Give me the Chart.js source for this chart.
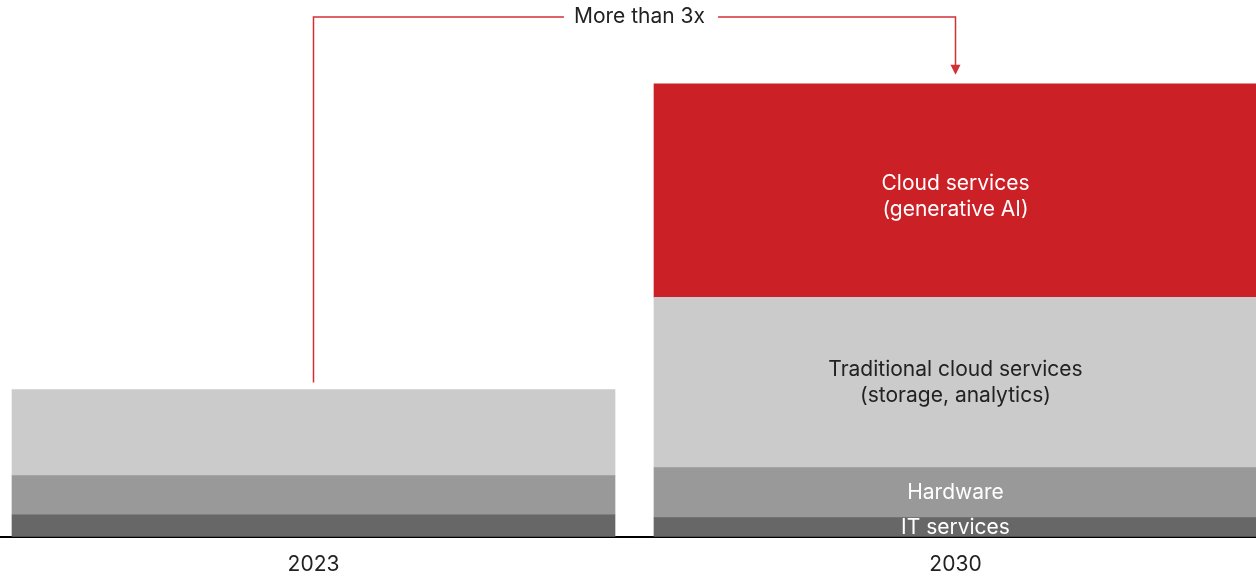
<!DOCTYPE html>
<html>
<head>
<meta charset="utf-8">
<script src="https://cdn.jsdelivr.net/npm/chart.js@4"></script>
<style>
  html, body { margin: 0; padding: 0; background: #fff; overflow: hidden; }
  #wrap { width: 1256px; height: 577px; position: relative; overflow: hidden; }
  /* canvas is a bit bigger than the page so the two category centres land where the bars sit */
  #inner { position: absolute; left: -19px; top: 0; width: 1300px; height: 594px; }
</style>
</head>
<body>
<div id="wrap"><div id="inner"><canvas id="chart"></canvas></div></div>
<script>
// values (arbitrary units, 2023 total = 100)
const years = ['2023', '2030'];
const itServices = [15, 13];
const hardware = [26.5, 34];
const traditionalCloud = [58.5, 115.5];
const genAiCloud = [null, 145]; // no gen AI segment in 2023
const segmentNames = ['IT services', 'Hardware', 'Traditional cloud services\n(storage, analytics)', 'Cloud services\n(generative AI)'];
const segmentColors = ['#666766', '#999999', '#cbcbcb', '#cc2027'];
const segmentTextColors = ['#ffffff', '#ffffff', '#222222', '#ffffff'];
const growthLabel = 'More than 3x';

const series = [itServices, hardware, traditionalCloud, genAiCloud];
const FONT = '21px Inter, "Noto Sans", sans-serif';

// labels inside the 2030 bar + the red "More than 3x" bracket
const annotate = {
    id: 'annotate',
    afterDatasetsDraw(chart) {
        const ctx = chart.ctx;
        ctx.save();
        ctx.font = FONT;
        ctx.textAlign = 'center';
        ctx.textBaseline = 'middle';

        // segment names, only on the last bar
        const last = years.length - 1;
        series.forEach((s, d) => {
            const bar = chart.getDatasetMeta(d).data[last];
            if (!bar || !s[last]) return;
            const lines = segmentNames[d].split('\n');
            const mid = (bar.y + bar.base) / 2 + (d === 3 ? 6 : 0);
            ctx.fillStyle = segmentTextColors[d];
            lines.forEach((line, k) => {
                ctx.fillText(line, bar.x, mid + (k - (lines.length - 1) / 2) * 26.5);
            });
        });

        // bracket from top of 2023 to top of 2030
        const leftBar = chart.getDatasetMeta(2).data[0];
        const rightBar = chart.getDatasetMeta(3).data[1];
        const lx = Math.round(leftBar.x) - 0.5;
        const rx = Math.round(rightBar.x) - 0.5;
        const top = 17;
        const midX = (lx + rx) / 2 + 5;
        const tw = ctx.measureText(growthLabel).width;

        ctx.strokeStyle = '#d32f36';
        ctx.fillStyle = '#d32f36';
        ctx.lineWidth = 1.5;
        ctx.beginPath();
        ctx.moveTo(lx, leftBar.y - 7);
        ctx.lineTo(lx, top);
        ctx.lineTo(midX - tw / 2 - 10, top);
        ctx.moveTo(midX + tw / 2 + 13, top);
        ctx.lineTo(rx, top);
        ctx.lineTo(rx, rightBar.y - 15);
        ctx.stroke();

        // arrow head
        const tip = rightBar.y - 9;
        ctx.beginPath();
        ctx.moveTo(rx - 5, tip - 10);
        ctx.lineTo(rx + 5, tip - 10);
        ctx.lineTo(rx, tip);
        ctx.closePath();
        ctx.fill();

        ctx.fillStyle = '#222222';
        ctx.fillText(growthLabel, midX, top);
        ctx.restore();
    }
};

const chart = new Chart(document.getElementById('chart'), {
    type: 'bar',
    data: {
        labels: years,
        datasets: series.map((s, i) => ({
            label: segmentNames[i],
            data: s,
            backgroundColor: segmentColors[i],
            borderWidth: 0,
            barThickness: 603
        }))
    },
    options: {
        responsive: true,
        maintainAspectRatio: false,
        animation: false,
        layout: { padding: { top: 36, left: 11.5, right: 4.5, bottom: 2 } },
        plugins: { legend: { display: false }, tooltip: { enabled: false } },
        scales: {
            x: {
                stacked: true,
                z: 1,
                ticks: {
                    color: '#222',
                    padding: 15,
                    font: { family: 'Inter, "Noto Sans", sans-serif', size: 21 }
                },
                grid: { display: false, drawTicks: false },
                border: { display: true, color: '#000', width: 2 }
            },
            y: {
                stacked: true,
                display: false,
                min: 0,
                max: 340
            }
        }
    },
    plugins: [annotate]
});
</script>
</body>
</html>
